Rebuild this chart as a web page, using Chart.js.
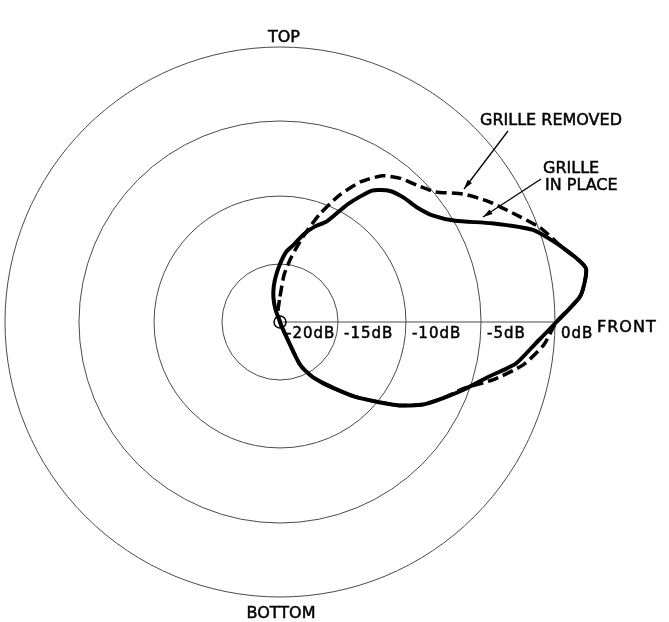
<!DOCTYPE html>
<html>
<head>
<meta charset="utf-8">
<script src="https://cdn.jsdelivr.net/npm/chart.js"></script>
<style>
  body { margin: 0; background: #ffffff; }
  canvas { display: block; }
</style>
</head>
<body>
<canvas id="diagramaPolar" width="669" height="622"></canvas>
<script>
// angulos em graus, sentido horario a partir do topo (90 = frente)
const angulos = [
    0, 5, 10, 15, 20, 25, 30, 35, 40, 45, 50, 55,
    60, 65, 70, 75, 80, 85, 90, 95, 100, 105, 110, 115,
    120, 125, 130, 135, 140, 145, 150, 155, 160, 165, 170, 175,
    180, 185, 190, 195, 200, 205, 210, 215, 220, 225, 230, 235,
    240, 245, 250, 255, 260, 265, 270, 275, 280, 285, 290, 295,
    300, 305, 310, 315, 320, 325, 330, 335, 340, 345, 350, 355
]

// aneis do papel polar (nao sao igualmente espacados)
const aneisDb = [-20, -15, -10, -5, 0]
const aneisRaio = [0, 0.211, 0.458, 0.731, 1]
const rotulosAneis = ['-20dB', '-15dB', '-10dB', '-5dB', '0dB']

// nivel em dB
const grelhaColocada = [
    -15.0, -14.1, -13.5, -12.6, -11.8, -11.1, -9.3, -7.7, -7.0, -6.7, -6.5, -6.0,
    -4.9, -2.8, -0.4, 1.1, 2.4, 1.8, 0.1, -1.3, -2.4, -4.1, -5.3, -6.4,
    -7.4, -8.7, -10.2, -11.5, -12.8, -13.8, -14.7, -16.0, -19.6, -20, -20, -20,
    -20, -20, -20, -20, -20, -20, -20, -20, -20, -20, -20, -20,
    -20, -20, -20, -20, -20, -20, -20, -20, -20, -20, -20, -20,
    -20, -20, -20, -20, -20, -20, -20, -20, -18.9, -17.8, -16.9, -16.0
]
const grelhaRemovida = [
    -17.8, -15.9, -14.4, -12.8, -10.9, -9.1, -7.6, -6.5, -5.9, -5.5, -4.9, -3.5,
    -2.3, -1.2, 0.1, 1.1, 2.4, 1.8, 0.1, -0.7, -1.9, -3.6, -5.4, -6.4,
    -7.4, -8.7, -10.2, -11.5, -12.8, -13.8, -14.7, -16.0, -19.6, -20, -20, -20,
    -20, -20, -20, -20, -20, -20, -20, -20, -20, -20, -20, -20,
    -20, -20, -20, -20, -20, -20, -20, -20, -20, -20, -20, -20,
    -20, -20, -20, -20, -20, -20, -20, -20, -20, -19.3, -19.0, -18.6
]

function dbParaRaio(db) {
    for (let i = 1; i < aneisDb.length; i++) {
        if (db <= aneisDb[i]) {
            const t = (db - aneisDb[i - 1]) / (aneisDb[i] - aneisDb[i - 1])
            return aneisRaio[i - 1] + t * (aneisRaio[i] - aneisRaio[i - 1])
        }
    }
    // acima de 0dB segue a inclinacao da ultima faixa
    const n = aneisDb.length - 1
    return aneisRaio[n] + (db - aneisDb[n]) * (aneisRaio[n] - aneisRaio[n - 1]) / (aneisDb[n] - aneisDb[n - 1])
}

function seta(ctx, x1, y1, x2, y2) {
    ctx.beginPath()
    ctx.moveTo(x1, y1)
    ctx.lineTo(x2, y2)
    ctx.stroke()
    const ang = Math.atan2(y2 - y1, x2 - x1)
    ctx.beginPath()
    ctx.moveTo(x2, y2)
    ctx.lineTo(x2 - 10 * Math.cos(ang - 0.28), y2 - 10 * Math.sin(ang - 0.28))
    ctx.lineTo(x2 - 10 * Math.cos(ang + 0.28), y2 - 10 * Math.sin(ang + 0.28))
    ctx.closePath()
    ctx.fill()
}

// letreiro com traco um pouco mais grosso
function escrever(ctx, texto, x, y) {
    ctx.fillText(texto, x, y)
    ctx.strokeText(texto, x, y)
}

const textos = {
    id: 'textos',
    afterDatasetsDraw(chart) {
        const ctx = chart.ctx
        const escala = chart.scales.r
        const cx = escala.xCenter
        const cy = escala.yCenter
        const raio = escala.drawingArea
        ctx.save()
        ctx.fillStyle = '#000000'
        ctx.strokeStyle = '#000000'

        // circulo pequeno na origem
        ctx.lineWidth = 1.5
        ctx.beginPath()
        ctx.arc(cx, cy, 6, 0, 2 * Math.PI)
        ctx.stroke()

        // rotulos dos aneis ao longo do eixo frontal
        ctx.lineWidth = 0.5
        ctx.font = '15px "DejaVu Sans"'
        ctx.letterSpacing = '1px'
        ctx.textAlign = 'left'
        ctx.textBaseline = 'alphabetic'
        rotulosAneis.forEach((rotulo, i) => {
            const x = cx + escala.getDistanceFromCenterForValue(aneisRaio[i]) + 6
            escrever(ctx, rotulo, x, cy + 16)
        })

        // direcoes
        ctx.font = '16px "DejaVu Sans"'
        ctx.letterSpacing = '0px'
        ctx.textAlign = 'center'
        escrever(ctx, 'TOP', cx + 4, cy - raio - 5)
        escrever(ctx, 'BOTTOM', cx + 1, cy + raio + 21)
        ctx.textAlign = 'left'
        ctx.letterSpacing = '1px'
        escrever(ctx, 'FRONT', cx + raio + 42, cy + 10)
        ctx.letterSpacing = '0px'

        // legendas com setas
        escrever(ctx, 'GRILLE REMOVED', 480, 125)
        escrever(ctx, 'GRILLE', 543, 173)
        escrever(ctx, 'IN PLACE', 545, 190)
        ctx.lineWidth = 1.3
        seta(ctx, 508, 131, 464, 189)
        seta(ctx, 541, 179, 483, 217)
        ctx.restore()
    }
}

new Chart(document.getElementById('diagramaPolar'), {
    type: 'radar',
    data: {
        labels: angulos,
        datasets: [
            {
                label: 'GRILLE REMOVED',
                data: grelhaRemovida.map(dbParaRaio),
                borderColor: '#000000',
                borderWidth: 3.5,
                borderDash: [11, 5],
                fill: false,
                pointRadius: 0,
                clip: false
            },
            {
                label: 'GRILLE IN PLACE',
                data: grelhaColocada.map(dbParaRaio),
                borderColor: '#000000',
                borderWidth: 4,
                fill: false,
                pointRadius: 0,
                clip: false
            }
        ]
    },
    options: {
        responsive: false,
        animation: false,
        layout: {
            padding: { left: 5, right: 114, top: 47, bottom: 25 }
        },
        elements: {
            line: { tension: 0.2 }
        },
        plugins: {
            legend: { display: false },
            tooltip: { enabled: false }
        },
        scales: {
            r: {
                min: 0,
                max: 1,
                afterBuildTicks: (escala) => {
                    escala.ticks = aneisRaio.map(v => ({ value: v }))
                },
                ticks: { display: false },
                pointLabels: { display: false },
                grid: {
                    circular: true,
                    color: '#4a4a4a',
                    lineWidth: 1
                },
                angleLines: {
                    display: true,
                    color: '#4a4a4a',
                    lineWidth: (ctx) => ctx.index === 18 ? 1 : 0
                }
            }
        }
    },
    plugins: [textos]
});
</script>
</body>
</html>
